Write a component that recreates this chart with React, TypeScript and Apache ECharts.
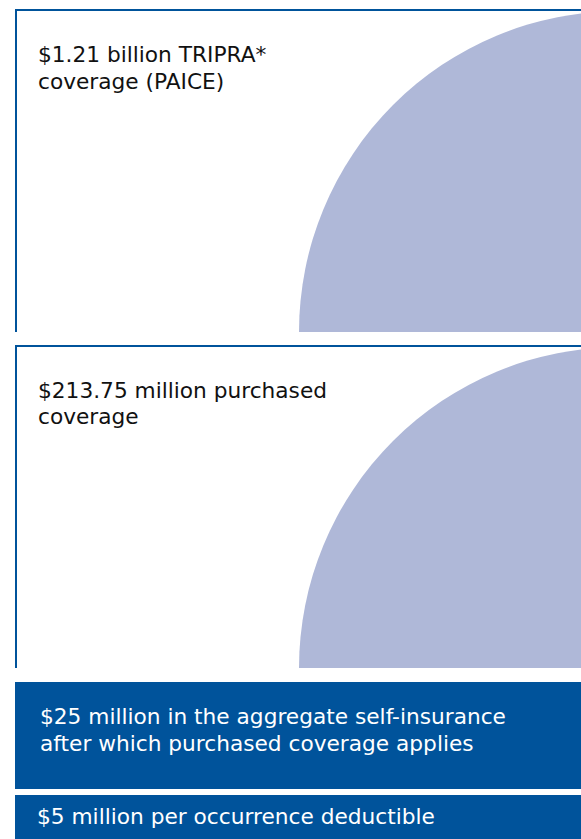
import React, { useEffect, useRef } from "react";
import * as echarts from "echarts";

// Layers of coverage, from top of the tower to its base
const layerLabels = [
  ["$1.21 billion TRIPRA*", "coverage (PAICE)"],
  ["$213.75 million purchased", "coverage"],
  ["$25 million in the aggregate self-insurance", "after which purchased coverage applies"],
  ["$5 million per occurrence deductible"],
];
const layerAmountsMillions = [1210, 213.75, 25, 5];
const layerKinds = ["outlined", "outlined", "filled", "filled"];

const BLUE = "#00539b";
const LAVENDER = "#afb8d8";
const FONT_SIZE = 21.7;
const FONT = `${FONT_SIZE}px "DejaVu Sans", sans-serif`;

export default function App() {
  const ref = useRef<HTMLDivElement>(null);

  useEffect(() => {
    if (!ref.current) return;
    const chart = echarts.init(ref.current, undefined, { renderer: "svg" });

    const W = 581;
    const left = 15;
    // geometry for each layer (top, bottom, first baseline, line gap)
    const geom = [
      { top: 9, bottom: 332, baseline: 62.5, gap: 26.5, textX: 38 },
      { top: 345, bottom: 668, baseline: 398, gap: 26.5, textX: 38 },
      { top: 682, bottom: 789, baseline: 724.3, gap: 27.2, textX: 40 },
      { top: 795, bottom: 845, baseline: 824.3, gap: 27, textX: 37 },
    ];
    // distance from alphabetic baseline to the "central" baseline used by middle alignment
    const centralOffset = 0.346 * FONT_SIZE;

    const elements: any[] = [];
    layerLabels.forEach((lines, i) => {
      const g = geom[i];
      const kind = layerKinds[i];
      if (kind === "outlined") {
        elements.push({
          type: "sector",
          shape: {
            cx: 620,
            cy: g.bottom,
            r: 321,
            r0: 0,
            startAngle: Math.PI,
            endAngle: Math.PI * 1.5,
            clockwise: true,
          },
          style: { fill: LAVENDER },
          silent: true,
        });
        elements.push({
          type: "rect",
          shape: { x: left, y: g.top, width: W - left, height: 2 },
          style: { fill: BLUE },
          silent: true,
        });
        elements.push({
          type: "rect",
          shape: { x: left, y: g.top, width: 2, height: g.bottom - g.top },
          style: { fill: BLUE },
          silent: true,
        });
      } else {
        elements.push({
          type: "rect",
          shape: { x: left, y: g.top, width: W - left, height: g.bottom - g.top },
          style: { fill: BLUE },
          silent: true,
        });
      }
      lines.forEach((line, k) => {
        elements.push({
          type: "text",
          x: g.textX,
          y: g.baseline + k * g.gap - centralOffset,
          style: {
            text: line,
            font: FONT,
            fill: kind === "outlined" ? "#111111" : "#ffffff",
            verticalAlign: "middle",
            align: "left",
          },
          silent: true,
        });
      });
    });

    chart.setOption({
      animation: false,
      backgroundColor: "#ffffff",
      graphic: { elements },
    });

    void layerAmountsMillions;
    return () => chart.dispose();
  }, []);

  return (
    <div
      ref={ref}
      style={{ position: "absolute", left: 0, top: 0, width: 581, height: 839 }}
    />
  );
}
